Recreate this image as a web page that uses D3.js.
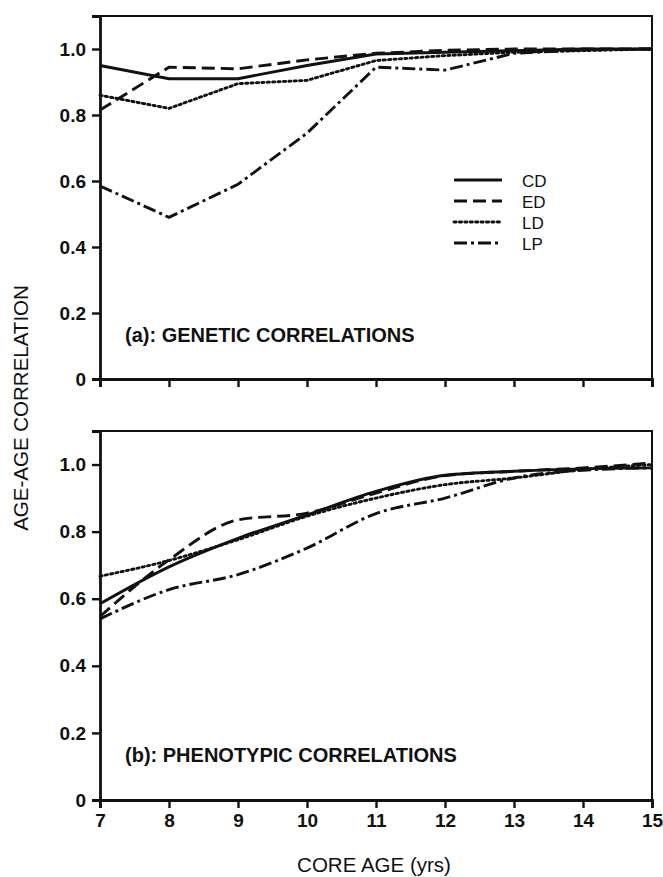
<!DOCTYPE html>
<html>
<head>
<meta charset="utf-8">
<script src="https://cdn.jsdelivr.net/npm/d3@7"></script>
<style>
  body { margin: 0; background: #fff; }
  svg text { font-family: "Liberation Sans", Arial, Helvetica, sans-serif; fill: #111; }
</style>
</head>
<body>
<div id="canvas"></div>
<script>
// core ages (x values)
var ages = [7, 8, 9, 10, 11, 12, 13, 14, 15];
var seriesNames = ["CD", "ED", "LD", "LP"];
var yTicks = [0, 0.2, 0.4, 0.6, 0.8, 1.0];

// (a) genetic correlations
var genCD = [0.95, 0.91, 0.91, 0.95, 0.985, 0.99, 0.995, 1.0, 1.0];
var genED = [0.815, 0.945, 0.94, 0.967, 0.987, 0.996, 1.0, 1.0, 1.0];
var genLD = [0.86, 0.82, 0.895, 0.905, 0.965, 0.98, 0.99, 0.995, 1.0];
var genLP = [0.585, 0.49, 0.59, 0.745, 0.945, 0.936, 0.987, 0.997, 1.0];

// (b) phenotypic correlations
var phenCD = [0.585, 0.695, 0.78, 0.85, 0.92, 0.968, 0.98, 0.987, 0.99];
var phenED = [0.547, 0.716, 0.835, 0.855, 0.915, 0.967, 0.98, 0.99, 1.005];
var phenLD = [0.667, 0.714, 0.776, 0.846, 0.9, 0.94, 0.96, 0.985, 1.0];
var phenLP = [0.54, 0.627, 0.672, 0.751, 0.854, 0.9, 0.96, 0.983, 0.99];

var width = 663, height = 877;
var left = 100, right = 652;

// dash styles per series
var dashes = { CD: null, ED: "13,6", LD: "2.2,3.2", LP: "13,4,3,4" };

var svg = d3.select("#canvas").append("svg")
    .attr("width", width)
    .attr("height", height);

var x = d3.scaleLinear().domain([7, 15]).range([left, right]);

function drawPanel(top, bottom, label, data, smooth, showXLabels, legend) {
  var y = d3.scaleLinear().domain([0, 1.1]).range([bottom, top]);
  var g = svg.append("g");

  // frame (top and right sides)
  g.append("path")
      .attr("d", "M" + left + "," + top + "H" + right + "V" + bottom)
      .attr("fill", "none")
      .attr("stroke", "#111")
      .attr("stroke-width", 2);

  // y axis
  var yAxis = g.append("g")
      .attr("transform", "translate(" + left + ",0)")
      .call(d3.axisLeft(y).tickValues(yTicks).tickSize(8).tickPadding(6)
        .tickFormat(function(d) { return d === 0 ? "0" : d3.format(".1f")(d); }));

  // x axis
  var xAxis = g.append("g")
      .attr("transform", "translate(0," + bottom + ")")
      .call(d3.axisBottom(x).tickValues(ages).tickSize(8).tickPadding(6)
        .tickFormat(showXLabels ? d3.format("d") : ""));

  [yAxis, xAxis].forEach(function(a) {
    a.select(".domain").attr("stroke", "#111").attr("stroke-width", 2.8);
    a.selectAll(".tick line").attr("stroke", "#111").attr("stroke-width", 2.4);
    a.selectAll(".tick text")
        .attr("font-size", 19)
        .attr("font-weight", "bold")
        .attr("fill", "#111");
  });

  var line = d3.line()
      .x(function(d, i) { return x(ages[i]); })
      .y(function(d) { return y(d); })
      .curve(smooth ? d3.curveMonotoneX : d3.curveLinear);

  seriesNames.forEach(function(name, k) {
    g.append("path")
        .datum(data[k])
        .attr("d", line)
        .attr("fill", "none")
        .attr("stroke", "#111")
        .attr("stroke-width", 2.9)
        .attr("stroke-linecap", name === "LD" ? "round" : "butt")
        .attr("stroke-dasharray", dashes[name]);
  });

  // panel label
  g.append("text")
      .attr("x", 125)
      .attr("y", y(0.112))
      .attr("font-size", 20)
      .attr("font-weight", "bold")
      .text(label);

  if (legend) {
    var lg = g.append("g");
    seriesNames.forEach(function(name, k) {
      var ly = 180 + k * 21;
      lg.append("line")
          .attr("x1", 454).attr("x2", 502)
          .attr("y1", ly).attr("y2", ly)
          .attr("stroke", "#111")
          .attr("stroke-width", 2.9)
          .attr("stroke-linecap", name === "LD" ? "round" : "butt")
          .attr("stroke-dasharray", dashes[name]);
      lg.append("text")
          .attr("x", 522)
          .attr("y", ly + 6.5)
          .attr("font-size", 17)
          .text(name);
    });
  }
}

drawPanel(16, 379, "(a): GENETIC CORRELATIONS", [genCD, genED, genLD, genLP], false, false, true);
drawPanel(431, 800, "(b): PHENOTYPIC CORRELATIONS", [phenCD, phenED, phenLD, phenLP], true, true, false);

// axis titles
svg.append("text")
    .attr("transform", "translate(28,408) rotate(-90)")
    .attr("text-anchor", "middle")
    .attr("font-size", 20.5)
    .text("AGE-AGE CORRELATION");

svg.append("text")
    .attr("x", 374)
    .attr("y", 872)
    .attr("text-anchor", "middle")
    .attr("font-size", 20.5)
    .text("CORE AGE (yrs)");
</script>
</body>
</html>
